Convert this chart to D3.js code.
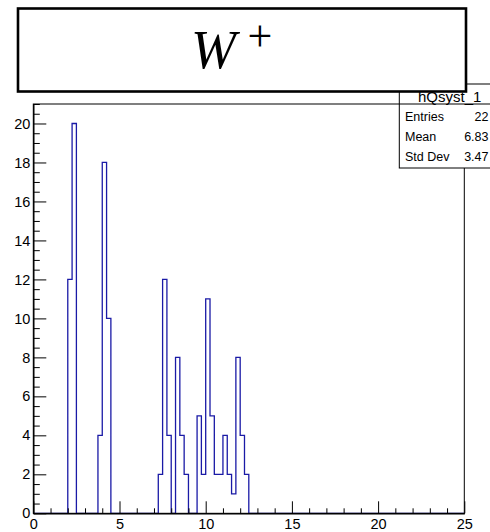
<!DOCTYPE html>
<html>
<head>
<meta charset="utf-8">
<script src="https://cdn.jsdelivr.net/npm/d3@7"></script>
<style>
  html, body { margin: 0; padding: 0; background: #fff; overflow: hidden; }
  svg { display: block; }
</style>
</head>
<body>
<script>
// ---- data ----
const histName = "hQsyst_1";
const titleMain = "W";
const titleSup = "+";
const xMin = 0, xMax = 25, nBins = 100;
const binLowEdges = [2.0, 2.25, 3.75, 4.0, 4.25, 7.25, 7.5, 7.75, 8.25, 8.5, 8.75, 9.5, 9.75, 10.0, 10.25, 10.5, 10.75, 11.0, 11.25, 11.5, 11.75, 12.0, 12.25];
const binCounts   = [12,  20,   4,    18,  10,   2,    12,  4,    8,    4,   2,    5,   2,    11,   5,     2,    2,     4,    2,     1,    8,     4,    2];
const statLabels = ["Entries", "Mean", "Std Dev"];
const statValues = ["22", "6.83", "3.47"];
const xMajorTicks = [0, 5, 10, 15, 20, 25];
const yMajorTicks = [0, 2, 4, 6, 8, 10, 12, 14, 16, 18, 20];
const yMax = 21;

// ---- layout ----
const W = 490, H = 532;
const fx0 = 33.3, fx1 = 464.3, fy0 = 104, fy1 = 513.3;

const svg = d3.select("body").append("svg").attr("width", W).attr("height", H);
svg.append("rect").attr("width", W).attr("height", H).attr("fill", "#fff");

const x = d3.scaleLinear().domain([xMin, xMax]).range([fx0, fx1]);
const y = d3.scaleLinear().domain([0, yMax]).range([fy1, fy0]);

// full bin contents
const binW = (xMax - xMin) / nBins;
const contents = new Array(nBins).fill(0);
binLowEdges.forEach((e, i) => {
  const k = Math.round((e - xMin) / binW);
  contents[k] = binCounts[i];
});
const pts = contents.map((c, i) => [xMin + i * binW, c]);
pts.push([xMax, contents[nBins - 1]]);

const line = d3.line().x(d => x(d[0])).y(d => y(d[1])).curve(d3.curveStepAfter);
svg.append("path").attr("d", line(pts))
  .attr("fill", "none").attr("stroke", "#1a1aa6").attr("stroke-width", 1.3);

// frame
svg.append("rect").attr("x", fx0).attr("y", fy0).attr("width", fx1 - fx0).attr("height", fy1 - fy0)
  .attr("fill", "none").attr("stroke", "#000").attr("stroke-width", 1);

const font = "'Liberation Sans', Arial, Helvetica, sans-serif";

// x axis
const xMinor = d3.range(xMin, xMax + 0.001, 1).filter(v => !xMajorTicks.includes(v));
const gxMinor = svg.append("g").attr("transform", `translate(0,${fy1})`)
  .call(d3.axisBottom(x).tickValues(xMinor).tickSizeInner(-5).tickSizeOuter(0).tickFormat(""));
const gx = svg.append("g").attr("transform", `translate(0,${fy1})`)
  .call(d3.axisBottom(x).tickValues(xMajorTicks).tickSizeInner(-12).tickSizeOuter(0).tickPadding(5.5).tickFormat(d3.format("d")));
// y axis
const yMinor = d3.range(0, yMax + 0.001, 0.5).filter(v => !yMajorTicks.includes(v));
const gyMinor = svg.append("g").attr("transform", `translate(${fx0},0)`)
  .call(d3.axisLeft(y).tickValues(yMinor).tickSizeInner(-6.5).tickSizeOuter(0).tickFormat(""));
const gy = svg.append("g").attr("transform", `translate(${fx0},0)`)
  .call(d3.axisLeft(y).tickValues(yMajorTicks).tickSizeInner(-13).tickSizeOuter(0).tickPadding(3).tickFormat(d3.format("d")));

[gx, gy, gxMinor, gyMinor].forEach(g => {
  g.selectAll(".domain").attr("stroke", "#000");
  g.selectAll(".tick line").attr("stroke", "#000");
  g.selectAll("text").attr("font-family", font).attr("font-size", 14.5).attr("fill", "#000");
});

// stats box
const sb = svg.append("g");
sb.append("rect").attr("x", 399.3).attr("y", 84).attr("width", 110).attr("height", 84)
  .attr("fill", "#fff").attr("stroke", "#000").attr("stroke-width", 1);
sb.append("line").attr("x1", 399.3).attr("x2", 500).attr("y1", 104).attr("y2", 104)
  .attr("stroke", "#000").attr("stroke-width", 1);
sb.append("text").attr("x", 418).attr("y", 101.5).text(histName)
  .attr("font-family", font).attr("font-size", 15).attr("fill", "#000");
statLabels.forEach((s, i) => {
  const by = 121.3 + i * 20;
  sb.append("text").attr("x", 405).attr("y", by).text(s)
    .attr("font-family", font).attr("font-size", 12.5).attr("fill", "#000");
  sb.append("text").attr("x", 488.5).attr("y", by).attr("text-anchor", "end").text(statValues[i])
    .attr("font-family", font).attr("font-size", 12.5).attr("fill", "#000");
});

// title box
const tb = svg.append("g");
tb.append("rect").attr("x", 18).attr("y", 8.5).attr("width", 448).attr("height", 83)
  .attr("fill", "#fff").attr("stroke", "#000").attr("stroke-width", 2.6);
const serif = "'Liberation Serif', 'Times New Roman', serif";
tb.append("text").attr("x", 191).attr("y", 68.3).text(titleMain)
  .attr("font-family", serif).attr("font-style", "italic").attr("font-size", 54).attr("fill", "#000");
tb.append("text").attr("x", 247.5).attr("y", 51).text(titleSup)
  .attr("font-family", serif).attr("font-size", 44).attr("fill", "#000");
</script>
</body>
</html>
